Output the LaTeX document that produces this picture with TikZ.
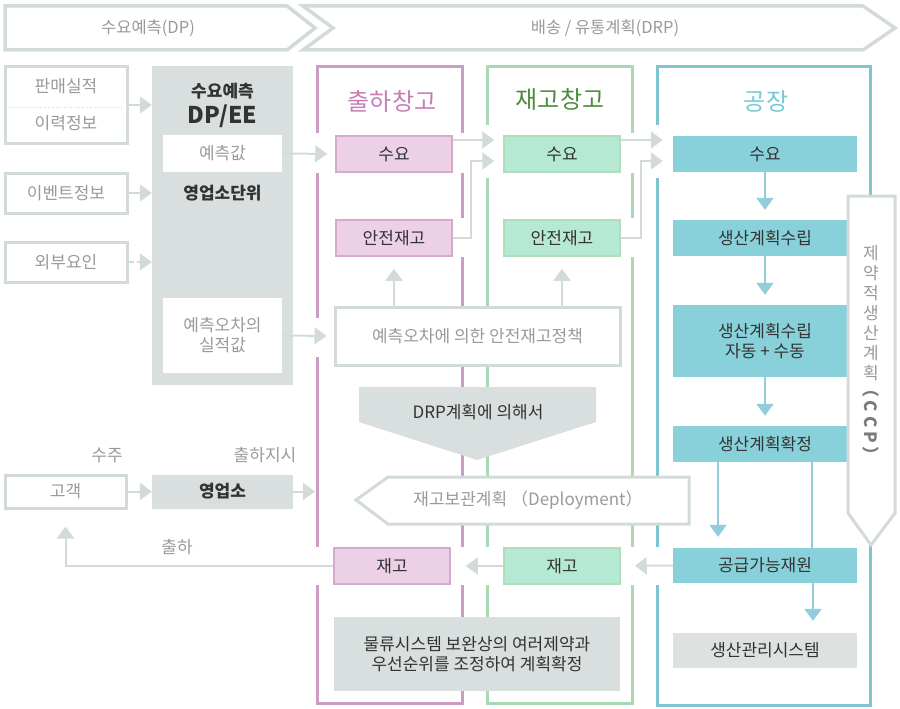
\documentclass[tikz,border=0pt]{standalone}
\usepackage{fontspec}
\setmainfont{Noto Sans CJK KR}
\usepackage{tikz}
\usetikzlibrary {arrows.meta}

\definecolor{lineg}{HTML}{D3DBD9}
\definecolor{boxg}{HTML}{D9DFDE}
\definecolor{txtg}{HTML}{9A9A9A}
\definecolor{txtd}{HTML}{333333}
\definecolor{pinkl}{HTML}{CC9CC3}
\definecolor{pinkf}{HTML}{ECD0E6}
\definecolor{pinkt}{HTML}{C77DB4}
\definecolor{greenl}{HTML}{A8D9B3}
\definecolor{greenf}{HTML}{B6E9D4}
\definecolor{greent}{HTML}{4C8B3A}
\definecolor{teall}{HTML}{7EC4D3}
\definecolor{tealf}{HTML}{88D1DA}
\definecolor{tealt}{HTML}{79C8D3}

\begin{document}
\begin{tikzpicture}[x=1pt,y=-1pt,
        note/.style={text=txtg,inner sep=0pt,font=\fontsize{17}{20}\selectfont},
        dark/.style={text=txtd,inner sep=0pt,font=\fontsize{17}{20}\selectfont},
        bold/.style={text=txtd,inner sep=0pt,font=\bfseries\fontsize{17}{20}\selectfont},
        title/.style={inner sep=0pt,font=\fontsize{24}{26}\selectfont},
        band/.style={draw=lineg,line width=3.5pt,fill=white},
        frame/.style={line width=3pt},
        inbox/.style={note,draw=lineg,line width=3pt,fill=white},
        wbox/.style={note,fill=white,minimum width=119pt},
        pbox/.style={dark,fill=pinkf,draw=pinkl!85,line width=1.5pt,minimum width=116pt,minimum height=36pt},
        gbox/.style={dark,fill=greenf,draw=greenl!90,line width=1.5pt,minimum width=116pt,minimum height=36pt},
        tbox/.style={dark,fill=tealf,minimum width=184pt,minimum height=36pt},
        garrow/.style={draw=lineg,line width=2pt,arrows = -{Triangle[length=12pt,width=17pt]}},
        tarrow/.style={draw=teall!85,line width=2pt,arrows = -{Triangle[length=12pt,width=17pt]}}]

            %\draw [help lines] (0,0) grid (900,709);
            \useasboundingbox (0,0) rectangle (900,709);

            % top bands
            \draw[band] (5,6) -- (287,6) -- (315,28) -- (287,50) -- (5,50) -- cycle;
            \draw[band] (303,6) -- (863,6) -- (895,28) -- (863,50) -- (303,50) -- (333,28) -- cycle;
            \path   (148,28) node (dp) [note,font=\fontsize{16.5}{18}\selectfont] {수요예측(DP)}
                    (605,28) node (drp) [note,font=\fontsize{16.5}{18}\selectfont] {배송 / 유통계획(DRP)};

            % warehouse frames
            \draw[pinkl,frame] (317,133) -- (317,67) -- (462,67) -- (462,133)
                    (317,173) -- (317,318) (317,357) -- (317,547)
                    (317,585) -- (317,703) -- (462,703) -- (462,585)
                    (462,173) -- (462,218) (462,257) -- (462,547);
            \draw[greenl,frame] (487,125) -- (487,67) -- (632,67) -- (632,133)
                    (487,178) -- (487,547)
                    (487,585) -- (487,703) -- (632,703) -- (632,585)
                    (632,173) -- (632,218) (632,257) -- (632,547);
            \draw[teall,frame] (657,125) -- (657,67) -- (870,67) -- (870,705) -- (657,705) -- (657,585)
                    (657,178) -- (657,547);

            \path   (392,101) node (t1) [title,text=pinkt] {출하창고}
                    (560,99) node (t2) [title,text=greent] {재고창고}
                    (766,101) node (t3) [title,text=tealt] {공장};

            % inputs and DP/EE
            \path   (66,105) node (hist) [inbox,minimum width=122pt,minimum height=76pt] {}
                    (66,86) node (sales) [note] {판매실적}
                    (66,123) node (past) [note] {이력정보}
                    (66,193) node (event) [inbox,minimum width=122pt,minimum height=40pt] {이벤트정보}
                    (66,262) node (ext) [inbox,minimum width=122pt,minimum height=40pt] {외부요인};
            \draw[lineg,line width=0.6pt,dotted] (9,107) -- (123,107);

            \path   (222.5,225.5) node (dpee) [fill=boxg,minimum width=141pt,minimum height=319pt] {}
                    (222.5,91) node (dphead) [bold] {수요예측}
                    (222.5,116) node (dpname) [bold,font=\bfseries\fontsize{23}{24}\selectfont] {DP/EE}
                    (222.5,153.5) node (fcst) [wbox,minimum height=37pt] {예측값}
                    (222.5,193) node (unit) [bold] {영업소단위}
                    (222.5,335.5) node (err) [wbox,minimum height=75pt,align=center] {예측오차의\\실적값};

            % warehouse boxes
            \path   (394,154) node (ship_dem) [pbox] {수요}
                    (394,238) node (ship_ss) [pbox] {안전재고}
                    (392,566) node (ship_stk) [pbox] {재고}
                    (562,154) node (wh_dem) [gbox] {수요}
                    (562,238) node (wh_ss) [gbox] {안전재고}
                    (562,566) node (wh_stk) [gbox] {재고};

            % factory boxes
            \path   (765,154) node (fac_dem) [tbox] {수요}
                    (765,238) node (fac_plan) [tbox] {생산계획수립}
                    (765,341) node (fac_auto) [tbox,minimum height=72pt,align=center] {생산계획수립\\자동 + 수동}
                    (765,444) node (fac_conf) [tbox] {생산계획확정}
                    (765,565.5) node (fac_sup) [tbox,minimum height=35pt] {공급가능재원}
                    (765,650.5) node (mes) [dark,fill=boxg!90!white,minimum width=184pt,minimum height=35pt] {생산관리시스템};

            \draw[band,line width=3pt] (848,196) -- (895,196) -- (895,513) -- (871,545) -- (848,513) -- cycle;
            \path   (871,313) node (ccp) [note,align=center] {제\\약\\적\\생\\산\\계\\획}
                    (871,422) node (ccpname) [note,text=txtg!80!black,font=\bfseries\fontsize{17}{20}\selectfont,rotate=-90] {（ C C P ）};

            % policy, DRP, deployment
            \path   (477.5,336) node (policy) [inbox,minimum width=285pt,minimum height=58pt] {예측오차에 의한 안전재고정책};
            \fill[boxg] (359,387) -- (596,387) -- (596,422) -- (477,460) -- (359,422) -- cycle;
            \path   (478,412) node (drpby) [dark] {DRP계획에 의해서};
            \draw[band,line width=3pt] (356,500) -- (388,477) -- (689,477) -- (689,524) -- (388,524) -- cycle;
            \path   (528,500) node (deploy) [note] {재고보관계획 （Deployment）};
            \path   (477,654) node (logi) [dark,fill=boxg,minimum width=286pt,minimum height=74pt,align=center] {물류시스템 보완상의 여러제약과\\우선순위를 조정하여 계획확정};

            % customer and sales office
            \path   (65.5,491.5) node (cust) [inbox,minimum width=121pt,minimum height=33pt] {고객}
                    (222.5,491.5) node (office) [bold,fill=boxg,minimum width=141pt,minimum height=34pt] {영업소}
                    (107,455) node (order) [note] {수주}
                    (265,455) node (instr) [note] {출하지시}
                    (177,547) node (shiplab) [note] {출하};
            \coordinate (shipin) at (315,491.5);

            % grey connectors
            \draw[garrow] (hist.east) -- (hist.east -| dpee.west);
            \draw[garrow] (event.east) -- (event.east -| dpee.west);
            \draw[garrow,dash pattern=on 5pt off 3pt] (ext.east) -- (ext.east -| dpee.west);
            \draw[garrow,shorten >=8pt] (fcst.east) -- (ship_dem.west);
            \draw[garrow,shorten >=7pt] (err.east) -- (policy.west);
            \draw[garrow,shorten >=9pt] ([yshift=14pt]ship_dem.east) -- ([yshift=14pt]wh_dem.west);
            \draw[garrow] (ship_ss.east) -| ([xshift=-32pt,yshift=-7pt]wh_dem.west) -- ([xshift=-9pt,yshift=-7pt]wh_dem.west);
            \draw[garrow,shorten >=10pt] ([yshift=14pt]wh_dem.east) -- ([yshift=14pt]fac_dem.west);
            \draw[garrow] (wh_ss.east) -| ([xshift=-32pt,yshift=-7pt]fac_dem.west) -- ([xshift=-10pt,yshift=-7pt]fac_dem.west);
            \draw[garrow,shorten >=12pt] (policy.north -| ship_ss.south) -- (ship_ss.south);
            \draw[garrow,shorten >=12pt] (policy.north -| wh_ss.south) -- (wh_ss.south);
            \draw[garrow,shorten >=14pt] (fac_sup.west) -- (wh_stk.east);
            \draw[garrow,shorten >=15pt] (wh_stk.west) -- (ship_stk.east);
            \draw[garrow,shorten >=17pt] (ship_stk.west) -| (cust.south);
            \draw[garrow] (cust.east) -- (office.west);
            \draw[garrow] (office.east) -- (shipin);

            % factory connectors
            \draw[tarrow,shorten >=10pt] (fac_dem.south) -- (fac_plan.north);
            \draw[tarrow,shorten >=10pt] (fac_plan.south) -- (fac_auto.north);
            \draw[tarrow,shorten >=10pt] (fac_auto.south) -- (fac_conf.north);
            \draw[tarrow,shorten >=11pt] ([xshift=-47pt]fac_conf.south) -- ([xshift=-47pt]fac_sup.north);
            \draw[teall!85,line width=2pt] ([xshift=47pt]fac_conf.south) -- ([xshift=47pt]fac_sup.north);
            \draw[tarrow,shorten >=12pt] ([xshift=48pt]fac_sup.south) -- ([xshift=48pt]mes.north);

        \end{tikzpicture}
\end{document}
